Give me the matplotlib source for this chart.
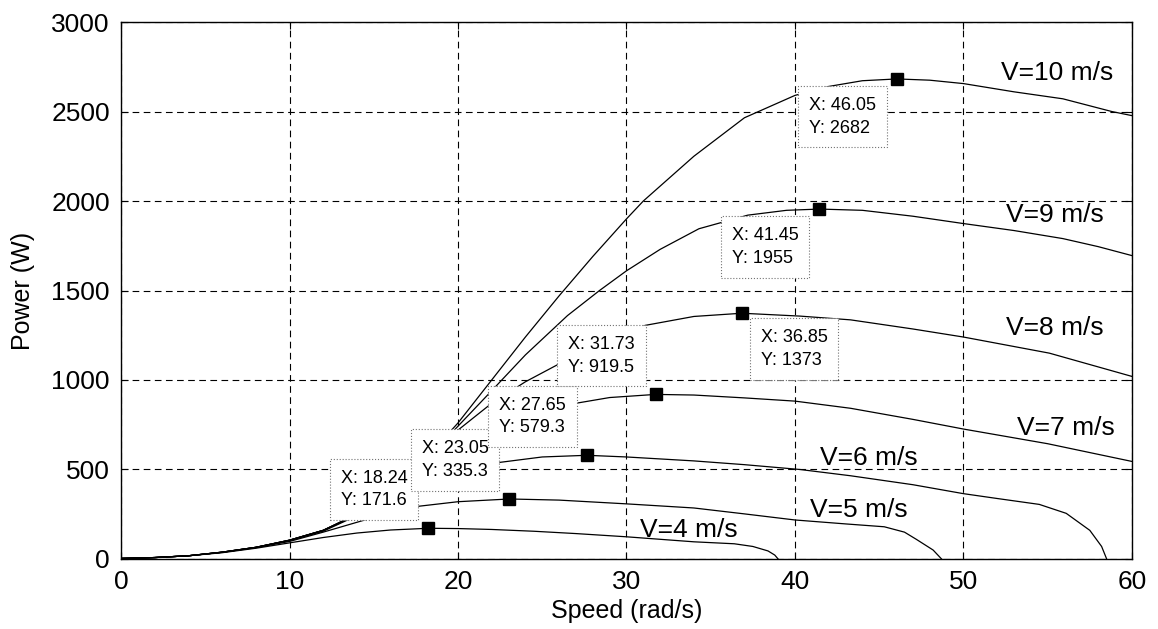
import matplotlib
matplotlib.use("Agg")
import matplotlib.pyplot as plt

plt.rcParams['font.family'] = ['Liberation Sans', 'DejaVu Sans']

# ---- data ----
v4_x = [0, 2, 4, 6, 8, 10, 12, 14, 16, 18.24, 20, 22, 24.5, 27, 30, 32, 34, 36.4, 37.5, 38.4, 38.8, 39.0]
v4_y = [3, 8, 18, 35, 60, 90, 120, 145, 162, 171.6, 170, 165, 155, 142, 124, 110, 96, 85, 70, 45, 22, 0]

v5_x = [0, 2, 4, 6, 8, 10, 12, 14, 16, 17.7, 20, 23.05, 26, 30, 34, 37, 40, 43, 45.3, 46.5, 47.2, 48.2, 48.7]
v5_y = [3, 8, 18, 37, 63, 98, 150, 205, 260, 295, 320, 335.3, 329, 308, 285, 252, 218, 196, 180, 150, 110, 50, 0]

v6_x = [0, 2, 4, 6, 8, 10, 12, 14, 16, 18, 20, 22.5, 25, 27.65, 30, 34, 37, 40.3, 43.3, 47, 50, 52, 54.5, 56.1, 57.5, 58.2, 58.5]
v6_y = [3, 8, 18, 38, 65, 103, 155, 242, 335, 408, 470, 540, 570, 579.3, 570, 548, 527, 500, 465, 415, 365, 338, 305, 255, 160, 70, 0]

v7_x = [0, 2, 4, 6, 8, 10, 12, 14, 16, 18, 20, 22, 24, 27, 29, 31.73, 34, 37, 40, 43.3, 47, 50, 55, 60]
v7_y = [3, 8, 18, 38, 65, 105, 160, 245, 350, 480, 600, 695, 780, 870, 902, 919.5, 916, 900, 882, 842, 780, 726, 644, 545]

v8_x = [0, 2, 4, 6, 8, 10, 12, 14, 16, 18, 20, 22, 24, 26, 28, 31.1, 34, 36.85, 40.3, 43.3, 47, 50, 55.1, 60]
v8_y = [3, 8, 18, 38, 65, 105, 160, 247, 362, 528, 720, 870, 990, 1090, 1185, 1305, 1355, 1373, 1357, 1336, 1285, 1240, 1150, 1020]

v9_x = [0, 2, 4, 6, 8, 10, 12, 14, 16, 18, 20, 22, 24, 26.5, 28.4, 30, 32, 34.3, 37.2, 39.5, 41.45, 44, 47, 50, 53, 55.9, 58, 60]
v9_y = [3, 8, 18, 38, 65, 105, 160, 250, 370, 540, 742, 940, 1140, 1360, 1500, 1610, 1730, 1845, 1921, 1948, 1955, 1948, 1915, 1874, 1835, 1790, 1745, 1695]

v10_x = [0, 2, 4, 6, 8, 10, 12, 14, 16, 18, 20, 22, 24, 26, 28, 30, 31, 34, 37, 40, 42, 44, 46.05, 48, 50, 53, 55.9, 58.8, 60]
v10_y = [3, 8, 18, 38, 65, 105, 160, 252, 378, 552, 760, 1000, 1240, 1470, 1690, 1900, 2000, 2250, 2465, 2590, 2640, 2672, 2682, 2675, 2656, 2610, 2571, 2500, 2477]

curves_x = [v4_x, v5_x, v6_x, v7_x, v8_x, v9_x, v10_x]
curves_y = [v4_y, v5_y, v6_y, v7_y, v8_y, v9_y, v10_y]

wind_labels = ['V=4 m/s', 'V=5 m/s', 'V=6 m/s', 'V=7 m/s', 'V=8 m/s', 'V=9 m/s', 'V=10 m/s']
label_x = [30.8, 40.9, 41.5, 53.2, 52.5, 52.5, 52.2]
label_y = [162, 274, 562, 732, 1290, 1920, 2715]

peak_x = [18.24, 23.05, 27.65, 31.73, 36.85, 41.45, 46.05]
peak_y = [171.6, 335.3, 579.3, 919.5, 1373, 1955, 2682]
peak_xtxt = ['18.24', '23.05', '27.65', '31.73', '36.85', '41.45', '46.05']
peak_ytxt = ['171.6', '335.3', '579.3', '919.5', '1373', '1955', '2682']
# datatip placement: 'ul' up-left, 'dr' down-right, 'dl' down-left
tip_side = ['ul', 'ul', 'ul', 'ul', 'dr', 'dl', 'dl']

xticks = [0, 10, 20, 30, 40, 50, 60]
yticks = [0, 500, 1000, 1500, 2000, 2500, 3000]

# ---- figure ----
fig = plt.figure(figsize=(11.58, 6.29), dpi=100)
ax = fig.add_axes([0.1045, 0.1113, 0.873, 0.8537])

for cx, cy in zip(curves_x, curves_y):
    ax.plot(cx, cy, color='black', lw=0.9, zorder=2)

ax.plot(peak_x, peak_y, linestyle='none', marker='s', markersize=8.5,
        color='black', zorder=5)

side_cfg = {
    'ul': dict(offset=(-15, 13.6), ha='right', va='bottom'),
    'dr': dict(offset=(13.6, -11.4), ha='left', va='top'),
    'dl': dict(offset=(-15, -12.8), ha='right', va='top'),
}
for px, py, tx, ty, sd in zip(peak_x, peak_y, peak_xtxt, peak_ytxt, tip_side):
    cfg = side_cfg[sd]
    ax.annotate('X: %s\nY: %s' % (tx, ty), xy=(px, py), xytext=cfg['offset'],
                textcoords='offset points', ha=cfg['ha'], va=cfg['va'],
                multialignment='left',
                fontsize=13, linespacing=1.45, zorder=4,
                bbox=dict(boxstyle='square,pad=0.6', fc='white', ec='0.45',
                          ls=':', lw=0.8))

for lx, ly, lt in zip(label_x, label_y, wind_labels):
    ax.text(lx, ly, lt, fontsize=19, ha='left', va='center', zorder=4)

ax.set_xlim(0, 60)
ax.set_ylim(0, 3000)
ax.set_xticks(xticks)
ax.set_yticks(yticks)
ax.tick_params(direction='in', length=5, width=0.8, labelsize=19,
               top=True, right=True, pad=8)
ax.grid(True, color='black', linestyle=(0, (6, 4)), linewidth=0.8)
ax.set_axisbelow(True)
for s in ax.spines.values():
    s.set_linewidth(1.0)

ax.set_xlabel('Speed (rad/s)', fontsize=18)
ax.set_ylabel('Power (W)', fontsize=18)
ax.xaxis.set_label_coords(0.5, -0.075)
ax.yaxis.set_label_coords(-0.085, 0.5)

fig.savefig('out.png', dpi=100)
